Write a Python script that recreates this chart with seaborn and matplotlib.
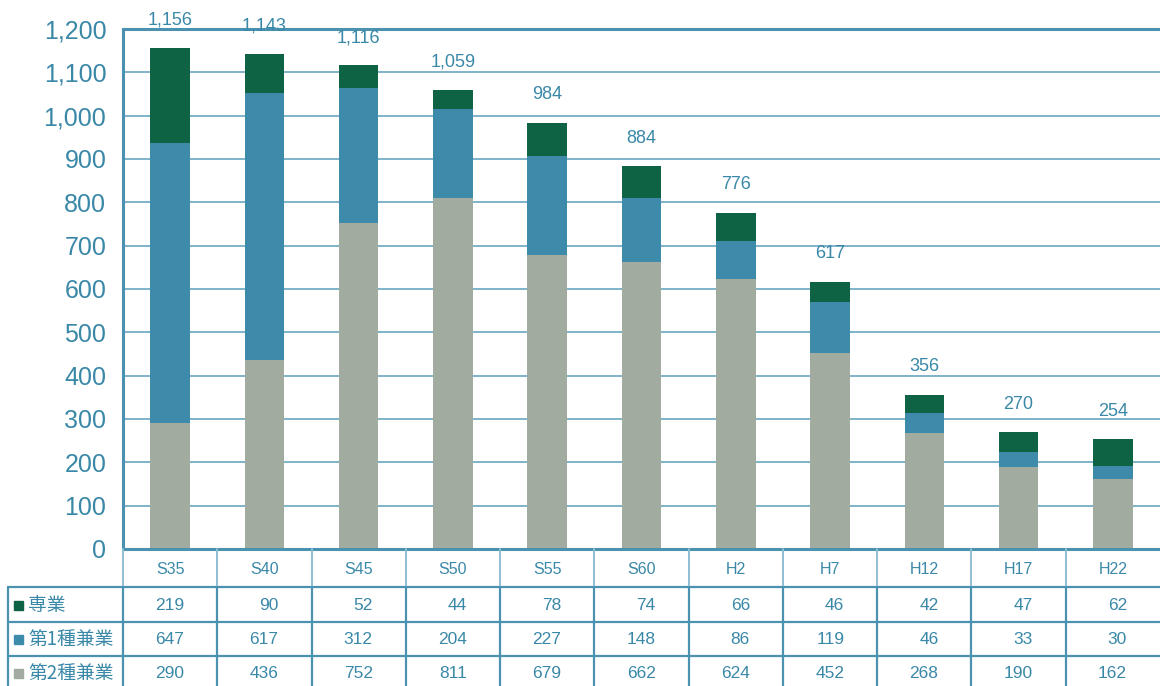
import numpy as np
import pandas as pd
import seaborn as sns
import matplotlib.pyplot as plt
from matplotlib.patches import Rectangle

sns.set_style('white')
plt.rcParams['font.family'] = ['Liberation Sans', 'Noto Sans CJK JP', 'DejaVu Sans']

# data ---
categories = ['S35', 'S40', 'S45', 'S50', 'S55', 'S60', 'H2', 'H7', 'H12', 'H17', 'H22']
sengyo = [219, 90, 52, 44, 78, 74, 66, 46, 42, 47, 62]        # 専業
kengyo1 = [647, 617, 312, 204, 227, 148, 86, 119, 46, 33, 30]  # 第1種兼業
kengyo2 = [290, 436, 752, 811, 679, 662, 624, 452, 268, 190, 162]  # 第2種兼業
series_names = ['専業', '第1種兼業', '第2種兼業']

c_dark = '#0f6345'
c_blue = '#3e8aaa'
c_gray = '#a1ab9f'
c_text = '#3a88a7'
c_line = '#4a92b0'
c_grid = '#74aec6'

df = pd.DataFrame({'year': categories, 'sengyo': sengyo, 'kengyo1': kengyo1, 'kengyo2': kengyo2})
df['total'] = df['sengyo'] + df['kengyo1'] + df['kengyo2']
df['mid'] = df['kengyo1'] + df['kengyo2']

W, H = 1160, 686
fig = plt.figure(figsize=(W / 100, H / 100), dpi=100)
ax = fig.add_axes([123 / W, 1 - 549 / H, 1 - 123 / W, (549 - 29) / H])

# stacked bars drawn as overlapping cumulative bars
sns.barplot(data=df, x='year', y='total', color=c_dark, saturation=1, width=0.42, ax=ax, order=categories, linewidth=0)
sns.barplot(data=df, x='year', y='mid', color=c_blue, saturation=1, width=0.42, ax=ax, order=categories, linewidth=0)
sns.barplot(data=df, x='year', y='kengyo2', color=c_gray, saturation=1, width=0.42, ax=ax, order=categories, linewidth=0)

ax.set_xlim(-0.5, len(categories) - 0.5)
ax.set_ylim(0, 1200)
ax.set_yticks(range(0, 1201, 100))
ax.set_yticklabels([f'{v:,}' for v in range(0, 1201, 100)])
ax.set_xlabel('')
ax.set_ylabel('')
ax.set_axisbelow(True)
ax.yaxis.grid(True, color=c_grid, lw=1.3)
ax.xaxis.grid(False)
ax.tick_params(axis='x', labelbottom=False, length=0)
ax.tick_params(axis='y', length=0, pad=12, labelsize=18, labelcolor=c_text)
for side in ['left', 'bottom', 'top']:
    ax.spines[side].set_color(c_line)
    ax.spines[side].set_linewidth(2.2)
ax.spines['right'].set_visible(False)

# totals above the bars
for i, t in enumerate(df['total']):
    ax.annotate(f'{t:,}', (i, t), xytext=(0, 20), textcoords='offset points',
                ha='center', va='center', fontsize=13, color=c_text, annotation_clip=False)

# data table under the chart ---
tab = fig.add_axes([123 / W, 0, 1 - 123 / W, (H - 549) / H])
tab.set_xlim(-0.5, len(categories) - 0.5)
tab.set_ylim(H - 549, 0)
tab.axis('off')
px = len(categories) / (W - 123)  # data units per pixel
x_left = -0.5 - 115 * px

row_y = [38, 73, 107]
for y in row_y:
    tab.plot([x_left, len(categories) - 0.5], [y, y], color=c_line, lw=1.6, clip_on=False)
for k in range(len(categories)):
    tab.plot([k - 0.5, k - 0.5], [0, 38], color='#8fbfd1', lw=1.4, clip_on=False)
    tab.plot([k - 0.5, k - 0.5], [38, H - 549], color=c_line, lw=1.6, clip_on=False)
tab.plot([x_left, x_left], [38, H - 549], color=c_line, lw=1.6, clip_on=False)

for i, cat in enumerate(categories):
    tab.text(i, 20, cat, ha='center', va='center', fontsize=11.5, color=c_text)

row_vals = [sengyo, kengyo1, kengyo2]
row_cols = [c_dark, c_blue, c_gray]
row_mid = [56, 90, 124]
for vals, name, col, ym in zip(row_vals, series_names, row_cols, row_mid):
    tab.add_patch(Rectangle((-0.5 - 109 * px, ym - 4.5), 9 * px, 9, color=col, clip_on=False))
    tab.text(-0.5 - 95 * px, ym, name, ha='left', va='center', fontsize=13.5,
             color=c_text, family=['Noto Sans CJK JP', 'DejaVu Sans'], clip_on=False)
    for i, v in enumerate(vals):
        tab.text(i + 0.15, ym, str(v), ha='right', va='center', fontsize=12.5, color=c_text)

fig.savefig('out.png', dpi=100)
plt.close()
